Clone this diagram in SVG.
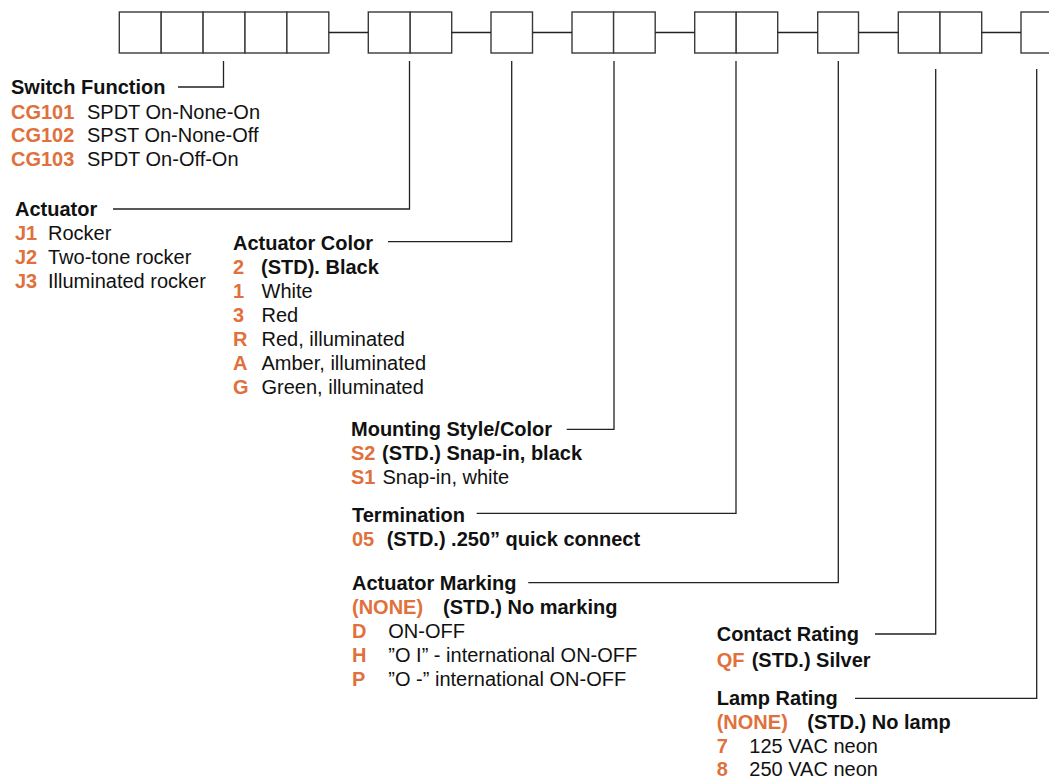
<svg xmlns="http://www.w3.org/2000/svg" width="1049" height="780" viewBox="0 0 1049 780">
<style>
text{font-family:"Liberation Sans",Arial,Helvetica,sans-serif;font-size:20px;fill:#111}
.b{font-weight:bold}
.o{font-weight:bold;fill:#E0703C}
.box{fill:#fff;stroke:#3a3a3a;stroke-width:1.4}
.ln{fill:none;stroke:#222;stroke-width:1.3}
</style>
<rect width="1049" height="780" fill="#fff"/>
<g id="code-boxes">
<rect class="box" x="119.3" y="12" width="41.9" height="41"/>
<rect class="box" x="161.2" y="12" width="41.9" height="41"/>
<rect class="box" x="203.1" y="12" width="41.9" height="41"/>
<rect class="box" x="245" y="12" width="41.9" height="41"/>
<rect class="box" x="286.9" y="12" width="41.9" height="41"/>
<rect class="box" x="368.3" y="12" width="41.9" height="41"/>
<rect class="box" x="410.2" y="12" width="41.5" height="41"/>
<rect class="box" x="491" y="12" width="41.5" height="41"/>
<rect class="box" x="572" y="12" width="41.6" height="41"/>
<rect class="box" x="613.6" y="12" width="41.6" height="41"/>
<rect class="box" x="694.7" y="12" width="41.5" height="41"/>
<rect class="box" x="736.2" y="12" width="41.5" height="41"/>
<rect class="box" x="817.7" y="12" width="40.8" height="41"/>
<rect class="box" x="898.3" y="12" width="41.7" height="41"/>
<rect class="box" x="940" y="12" width="41.7" height="41"/>
<rect class="box" x="1021" y="12" width="41.5" height="41"/>
</g>
<g id="connectors">
<path class="ln" d="M328.8,32.5H368.3M451.7,32.5H491M532.5,32.5H572M655.2,32.5H694.7M777.7,32.5H817.7M858.5,32.5H898.3M981.7,32.5H1021"/>
<path class="ln" d="M178,87H223.5V61"/>
<path class="ln" d="M113,209H409.5V61"/>
<path class="ln" d="M388,241.7H511.7V61"/>
<path class="ln" d="M566.7,429.3H614V61"/>
<path class="ln" d="M476.7,513.3H736V61"/>
<path class="ln" d="M528.3,582.7H838.3V61"/>
<path class="ln" d="M875,634H935.7V69"/>
<path class="ln" d="M855,698.3H1036.7V69"/>
</g>
<g id="switch-function">
<text class="b" x="11" y="94">Switch Function</text>
<text class="o" x="11" y="118.5">CG101</text><text x="87" y="118.5">SPDT On-None-On</text>
<text class="o" x="11" y="142">CG102</text><text x="87" y="142">SPST On-None-Off</text>
<text class="o" x="11" y="165.5">CG103</text><text x="87" y="165.5">SPDT On-Off-On</text>
</g>
<g id="actuator">
<text class="b" x="15" y="216">Actuator</text>
<text class="o" x="15" y="240">J1</text><text x="48" y="240">Rocker</text>
<text class="o" x="15" y="264">J2</text><text x="48" y="264">Two-tone rocker</text>
<text class="o" x="15" y="288">J3</text><text x="48" y="288">Illuminated rocker</text>
</g>
<g id="actuator-color">
<text class="b" x="233" y="249.5">Actuator Color</text>
<text class="o" x="233" y="273.5">2</text><text class="b" x="261" y="273.5">(STD). Black</text>
<text class="o" x="233" y="297.5">1</text><text x="261.5" y="297.5">White</text>
<text class="o" x="233" y="321.5">3</text><text x="261.5" y="321.5">Red</text>
<text class="o" x="233" y="345.5">R</text><text x="261.5" y="345.5">Red, illuminated</text>
<text class="o" x="233" y="369.5">A</text><text x="261.5" y="369.5">Amber, illuminated</text>
<text class="o" x="233" y="393.5">G</text><text x="261.5" y="393.5">Green, illuminated</text>
</g>
<g id="mounting">
<text class="b" x="351" y="435.7">Mounting Style/Color</text>
<text class="o" x="351" y="459.5">S2</text><text class="b" x="382" y="459.5">(STD.) Snap-in, black</text>
<text class="o" x="351" y="483.5">S1</text><text x="382.5" y="483.5">Snap-in, white</text>
</g>
<g id="termination">
<text class="b" x="352" y="521.7">Termination</text>
<text class="o" x="352" y="545.7">05</text><text class="b" x="386.7" y="545.7">(STD.) .250” quick connect</text>
</g>
<g id="actuator-marking">
<text class="b" x="352" y="590">Actuator Marking</text>
<text class="o" x="352" y="613.5">(NONE)</text><text class="b" x="443" y="613.5">(STD.) No marking</text>
<text class="o" x="352" y="637.5">D</text><text x="388.3" y="637.5">ON-OFF</text>
<text class="o" x="352" y="661.5">H</text><text x="388.3" y="661.5">”O I” - international ON-OFF</text>
<text class="o" x="352" y="685.5">P</text><text x="388.3" y="685.5">”O -” international ON-OFF</text>
</g>
<g id="contact-rating">
<text class="b" x="716.7" y="641">Contact Rating</text>
<text class="o" x="716.7" y="666.7">QF</text><text class="b" x="751.7" y="666.7">(STD.) Silver</text>
</g>
<g id="lamp-rating">
<text class="b" x="716.7" y="704.5">Lamp Rating</text>
<text class="o" x="716.7" y="729">(NONE)</text><text class="b" x="807.3" y="729">(STD.) No lamp</text>
<text class="o" x="716.7" y="752.5">7</text><text x="749.3" y="752.5">125 VAC neon</text>
<text class="o" x="716.7" y="775.5">8</text><text x="749.3" y="775.5">250 VAC neon</text>
</g>
</svg>
